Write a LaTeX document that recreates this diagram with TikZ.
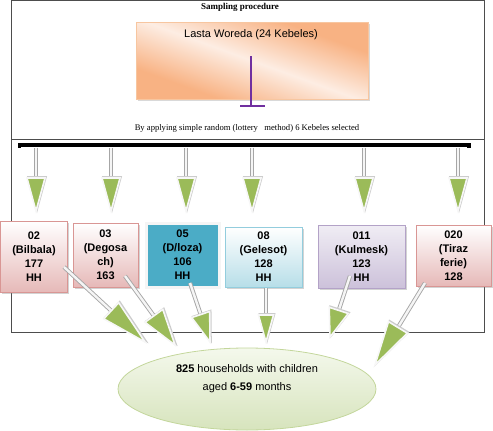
\documentclass[tikz,border=0pt]{standalone}
\usepackage{fontspec}
\setmainfont{Liberation Serif}
\setsansfont{Liberation Sans}
\usetikzlibrary{calc,shadows,shapes.geometric}
\definecolor{frameC}{HTML}{4D4D4D}
\definecolor{orF}{HTML}{F8B283}
\definecolor{orL}{HTML}{FDEDE3}
\definecolor{orB}{HTML}{F7C6A0}
\definecolor{pinkB}{HTML}{D99694}
\definecolor{pinkF}{HTML}{E6B9B8}
\definecolor{tealF}{HTML}{4BACC6}
\definecolor{blueF}{HTML}{B7DEE8}
\definecolor{blueB}{HTML}{93CDDD}
\definecolor{lavF}{HTML}{CCC1DA}
\definecolor{lavB}{HTML}{B3A2C7}
\definecolor{grnF}{HTML}{9BBB59}
\definecolor{ellT}{HTML}{F4F8EC}
\definecolor{ellB}{HTML}{D7E4BD}
\definecolor{ellD}{HTML}{C3D69B}
\definecolor{purp}{HTML}{7030A0}
\pgfdeclarehorizontalshading{orangediag}{100bp}{color(0bp)=(orF); color(30bp)=(orF); color(50bp)=(orL); color(70bp)=(orF); color(100bp)=(orF)}
\newcommand\blockarrow[4]{%
  \coordinate (hb) at ($(#2)!#3!(#1)$);
  \coordinate (hl) at ($(hb)!#4!90:(#2)$);
  \coordinate (hr) at ($(hb)!#4!-90:(#2)$);
  \draw[stemout] (#1) -- (hb);
  \draw[stemin] (#1) -- (hb);
  \draw[headshadow] ([shift={(1pt,1pt)}]#2) -- ([shift={(1pt,1pt)}]hl) -- ([shift={(1pt,1pt)}]hr) -- cycle;
  \filldraw[headst] (#2) -- (hl) -- (hr) -- cycle;
}
\begin{document}
\begin{tikzpicture}[x=1pt,y=-1pt,
  frame/.style={draw=frameC, line width=0.9pt},
  kbox/.style={rectangle, align=center, font=\sffamily\bfseries\fontsize{11}{14}\selectfont,
     inner sep=0pt, line width=1pt,
     drop shadow={shadow xshift=1.5pt, shadow yshift=-1.5pt, opacity=0.35}},
  pinkbox/.style={kbox, draw=pinkB, top color=white, bottom color=pinkF},
  stemout/.style={draw=gray!70, line width=4.2pt},
  stemin/.style={draw=gray!8, line width=2.4pt},
  headshadow/.style={fill=gray!40, draw=gray!40, line width=1.6pt, line join=miter},
  headst/.style={fill=grnF, draw=white!94!gray, line width=1.6pt, line join=miter}]
\useasboundingbox (0,0) rectangle (493,431);
% frames
\draw[frame] (11.5,0.5) rectangle (484,139);
\draw[frame] (11.5,139) -- (11.5,332) -- (484,332) -- (484,139);
% title
\node[font=\bfseries\fontsize{9}{11}\selectfont] (title) at (240,7.5) {Sampling procedure};
% top box
\node[rectangle, draw=orB, line width=0.8pt, shading=orangediag, shading angle=70,
      minimum width=232pt, minimum height=77pt, inner sep=0pt,
      drop shadow={shadow xshift=1.5pt, shadow yshift=-1.5pt, opacity=0.3}] (woreda) at (252,60.5) {};
\node[font=\sffamily\fontsize{11}{13}\selectfont] (woredatxt) at (251,34.5) {Lasta Woreda (24 Kebeles)};
% purple T connector
\coordinate (ptop) at (251,56);
\coordinate (pbot) at (251,105);
\coordinate (pl) at (240,105.5);
\coordinate (pr) at (264.5,105.5);
\draw[purp, line width=2pt] (ptop) -- (pbot);
\draw[purp, line width=2pt] (pl) -- (pr);
% selection text
\node[font=\fontsize{8.6}{10}\selectfont] (seltxt) at (247,128) {By applying simple random (lottery \ \ method) 6 Kebeles selected};
% bar
\coordinate (barL) at (19,145);
\coordinate (barR) at (470,145);
\draw[black, line width=3.5pt] (barL) -- (barR);
\fill[black] (18,142.5) rectangle (21,147.5);
\fill[black] (467,142.5) rectangle (471,147.5);
% top arrows
\foreach \i/\x in {1/36,2/111,3/186,4/252,5/364,6/458}{
  \coordinate (s\i) at (\x,147.5);
  \coordinate (t\i) at (\x,211);
}
\foreach \i in {1,...,6}{ \blockarrow{s\i}{t\i}{33pt}{9pt} }
% boxes
\node[pinkbox, minimum width=67pt, minimum height=71pt] (b1) at (34,256.5)
  {02\\(Bilbala)\\177\\HH};
\node[pinkbox, minimum width=65pt, minimum height=64pt] (b2) at (105.5,255)
  {03\\(Degosa\\ch)\\163};
\node[kbox, draw=white!92!gray, line width=3pt, fill=tealF, minimum width=73pt, minimum height=64pt] (b3) at (182.5,255)
  {05\\(D/loza)\\106\\HH};
\node[kbox, draw=blueB, top color=white, bottom color=blueF, minimum width=77pt, minimum height=60pt] (b4) at (263.5,257)
  {08\\(Gelesot)\\128\\HH};
\node[kbox, draw=lavB, top color=white!70!lavF, bottom color=lavF, minimum width=87pt, minimum height=63pt] (b5) at (361.5,257)
  {011\\(Kulmesk)\\123\\HH};
\node[pinkbox, minimum width=75pt, minimum height=61pt] (b6) at (453.5,255.5)
  {020\\(Tiraz\\ferie)\\128};
% ellipse
\node[ellipse, draw=ellD, line width=0.8pt, top color=ellT, bottom color=ellB,
      minimum width=258pt, minimum height=82pt, inner sep=0pt] (goal) at (247,389) {};
\node[font=\sffamily\fontsize{11}{18}\selectfont, align=center] (goaltxt) at (247,379)
  {\textbf{825} households with children\\aged \textbf{6-59} months};
% arrows to ellipse
\coordinate (d1) at (64,267);
\coordinate (e1) at (145,342);
\coordinate (d2) at (125,276);
\coordinate (e2) at (175,345);
\coordinate (d3) at (190,283);
\coordinate (e3) at (210,342);
\coordinate (d4) at (266,288);
\coordinate (e4) at (266,342);
\coordinate (d5) at (350,276);
\coordinate (e5) at (330,337);
\coordinate (d6) at (425,283);
\coordinate (e6) at (375,365);
\blockarrow{d1}{e1}{46pt}{11pt}
\blockarrow{d2}{e2}{36pt}{11pt}
\blockarrow{d3}{e3}{29pt}{9.5pt}
\blockarrow{d4}{e4}{27pt}{7.5pt}
\blockarrow{d5}{e5}{28pt}{10pt}
\blockarrow{d6}{e6}{44pt}{11pt}
\end{tikzpicture}
\end{document}
